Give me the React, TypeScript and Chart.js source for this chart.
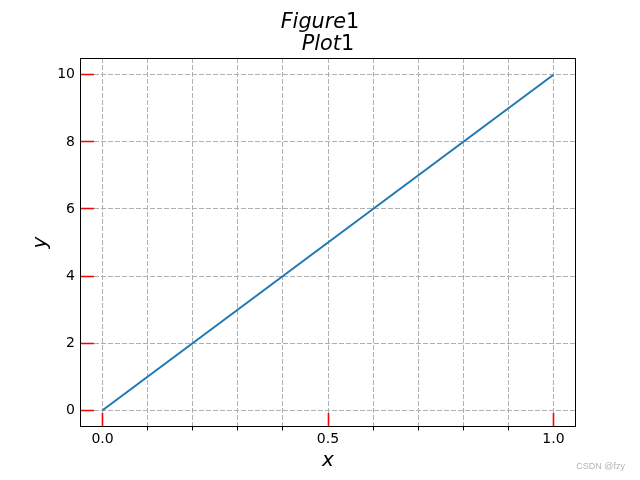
import React, { useEffect, useRef } from 'react';
import { Chart, registerables } from 'chart.js';
Chart.register(...registerables);

// ---- data ----
const xValues = [0, 1];
const yValues = [0, 10];
const xGridTicks = [0, 0.1, 0.2, 0.3, 0.4, 0.5, 0.6, 0.7, 0.8, 0.9, 1.0];
const xMajorTicks = [0, 0.5, 1.0];
const xMajorLabels = ['0.0', '0.5', '1.0'];
const yTicks = [0, 2, 4, 6, 8, 10];
const yTickLabels = ['0', '2', '4', '6', '8', '10'];
const figureTitle = ['Figure', '1'];
const plotTitle = ['Plot', '1'];
const xLabel = 'x';
const yLabel = 'y';
const watermark = 'CSDN @fzy';

const FONT = '"DejaVu Sans", sans-serif';

function align(p: number) {
  return Math.round(p - 0.5) + 0.5;
}

function drawMath(ctx: CanvasRenderingContext2D, parts: string[], cx: number, y: number, size: number) {
  ctx.font = `italic ${size}px ${FONT}`;
  const w1 = ctx.measureText(parts[0]).width;
  ctx.font = `${size}px ${FONT}`;
  const w2 = ctx.measureText(parts[1]).width;
  const x0 = cx - (w1 + w2) / 2;
  ctx.textAlign = 'left';
  ctx.textBaseline = 'alphabetic';
  ctx.font = `italic ${size}px ${FONT}`;
  ctx.fillText(parts[0], x0, y);
  ctx.font = `${size}px ${FONT}`;
  ctx.fillText(parts[1], x0 + w1, y);
}

const decorPlugin = {
  id: 'decor',
  afterDraw(chart: any) {
    const ctx: CanvasRenderingContext2D = chart.ctx;
    const { left, right, top, bottom } = chart.chartArea;
    const xs = chart.scales.x;
    const ys = chart.scales.y;
    ctx.save();
    ctx.setLineDash([]);
    // major ticks (red, inward)
    ctx.strokeStyle = '#ff0000';
    ctx.lineWidth = 1.6;
    ctx.beginPath();
    yTicks.forEach((v) => {
      const p = align(ys.getPixelForValue(v));
      ctx.moveTo(left, p);
      ctx.lineTo(left + 14, p);
    });
    xMajorTicks.forEach((v) => {
      const p = align(xs.getPixelForValue(v));
      ctx.moveTo(p, bottom);
      ctx.lineTo(p, bottom - 14);
    });
    ctx.stroke();
    // spines
    ctx.strokeStyle = '#000';
    ctx.lineWidth = 1;
    ctx.strokeRect(left + 0.5, top + 0.5, right - left - 1, bottom - top - 1);
    // minor ticks (black, outward)
    ctx.beginPath();
    xGridTicks.forEach((v) => {
      if (xMajorTicks.some((m) => Math.abs(m - v) < 1e-9)) return;
      const p = align(xs.getPixelForValue(v));
      ctx.moveTo(p, bottom);
      ctx.lineTo(p, bottom + 3.5);
    });
    ctx.stroke();
    // titles
    ctx.fillStyle = '#000';
    drawMath(ctx, figureTitle, 320, 28, 20.8);
    drawMath(ctx, plotTitle, (left + right) / 2, 50, 20.8);
    // axis labels
    ctx.font = `italic 20px ${FONT}`;
    ctx.textAlign = 'center';
    ctx.textBaseline = 'alphabetic';
    ctx.fillText(xLabel, (left + right) / 2, 466);
    ctx.save();
    ctx.translate(46, (top + bottom) / 2);
    ctx.rotate(-Math.PI / 2);
    ctx.fillText(yLabel, 0, 0);
    ctx.restore();
    // watermark
    ctx.font = '9px "Liberation Sans", sans-serif';
    ctx.fillStyle = '#b4b4b4';
    ctx.textAlign = 'right';
    ctx.fillText(watermark, 625, 469);
    ctx.restore();
  },
};

export default function App() {
  const ref = useRef<HTMLCanvasElement>(null);
  useEffect(() => {
    if (!ref.current) return;
    const chart = new Chart(ref.current, {
      type: 'line',
      data: {
        datasets: [
          {
            data: xValues.map((x, i) => ({ x, y: yValues[i] })),
            borderColor: '#1f77b4',
            borderWidth: 2,
            pointRadius: 0,
            tension: 0,
            fill: false,
          },
        ],
      },
      options: {
        animation: false,
        responsive: false,
        devicePixelRatio: 1,
        layout: { padding: { top: 58, right: 64, left: 0, bottom: 0 } },
        plugins: { legend: { display: false }, title: { display: false }, tooltip: { enabled: false } },
        scales: {
          x: {
            type: 'linear',
            min: -0.05,
            max: 1.05,
            afterBuildTicks: (scale: any) => {
              scale.ticks = xGridTicks.map((v) => ({ value: v }));
            },
            afterFit: (scale: any) => {
              scale.height = 53;
            },
            grid: { color: '#b0b0b0', lineWidth: 1, drawTicks: false },
            border: { display: false, dash: [5, 2] },
            ticks: {
              autoSkip: false,
              maxRotation: 0,
              padding: 4,
              color: '#000',
              font: { family: 'DejaVu Sans', size: 14 },
              callback: (value: any) => {
                const i = xMajorTicks.findIndex((m) => Math.abs(m - Number(value)) < 1e-9);
                return i >= 0 ? xMajorLabels[i] : '';
              },
            },
          },
          y: {
            type: 'linear',
            min: -0.5,
            max: 10.5,
            afterBuildTicks: (scale: any) => {
              scale.ticks = yTicks.map((v) => ({ value: v }));
            },
            afterFit: (scale: any) => {
              scale.width = 80;
            },
            grid: { color: '#b0b0b0', lineWidth: 1, drawTicks: false },
            border: { display: false, dash: [5, 2] },
            ticks: {
              autoSkip: false,
              padding: 5,
              color: '#000',
              font: { family: 'DejaVu Sans', size: 14 },
              callback: (value: any) => {
                const i = yTicks.findIndex((m) => Math.abs(m - Number(value)) < 1e-9);
                return i >= 0 ? yTickLabels[i] : '';
              },
            },
          },
        },
      },
      plugins: [decorPlugin],
    } as any);
    return () => chart.destroy();
  }, []);
  return (
    <div style={{ position: 'absolute', left: 0, top: 0, width: 640, height: 480, background: '#fff' }}>
      <canvas ref={ref} width={640} height={480} />
    </div>
  );
}
